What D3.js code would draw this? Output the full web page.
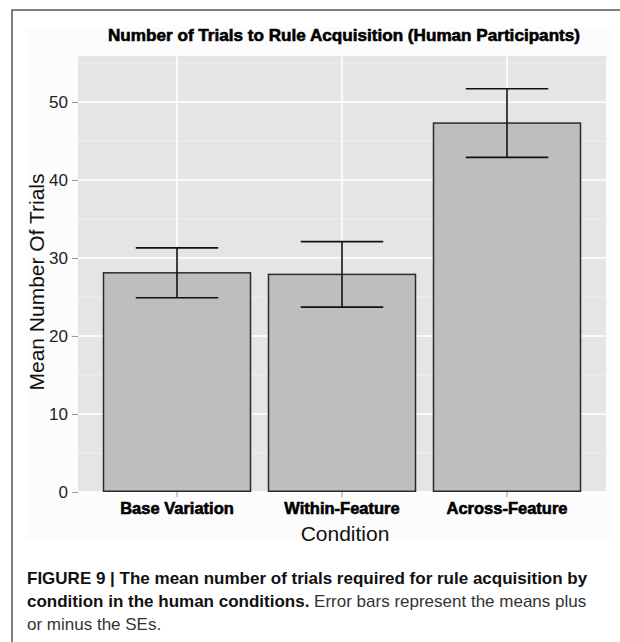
<!DOCTYPE html>
<html>
<head>
<meta charset="utf-8">
<script src="https://cdn.jsdelivr.net/npm/d3@7"></script>
<style>
  body { margin: 0; background: #fff; }
  svg { display: block; font-family: "Liberation Sans", Arial, sans-serif; }
</style>
</head>
<body>
<div id="chart"></div>
<script>
// data
const conditions = ["Base Variation", "Within-Feature", "Across-Feature"];
const meanTrials = [28.1, 27.9, 47.3];
const seTrials = [3.2, 4.2, 4.4];
const yTicks = [0, 10, 20, 30, 40, 50];
const yMinor = [5, 15, 25, 35, 45, 55];

const chartTitle = "Number of Trials to Rule Acquisition (Human Participants)";
const xTitle = "Condition";
const yTitle = "Mean Number Of Trials";

const W = 620, H = 642;
const panel = { left: 78, right: 606, top: 56, bottom: 492 };

const svg = d3.select("#chart").append("svg")
  .attr("width", W)
  .attr("height", H);

// frame lines (left + top)
svg.append("path")
  .attr("d", "M12," + H + "V10H" + W)
  .attr("fill", "none")
  .attr("stroke", "#555")
  .attr("stroke-width", 1.5);

// faint plot background
svg.append("rect")
  .attr("x", 26).attr("y", 27)
  .attr("width", 584).attr("height", 512)
  .attr("fill", "#fcfcfc");

// scales
const x = d3.scaleBand()
  .domain(conditions)
  .range([panel.left, panel.right])
  .paddingInner(0.1)
  .paddingOuter(0.15);

const y = d3.scaleLinear()
  .domain([0, 55.9])
  .range([panel.bottom, panel.top]);

// panel
svg.append("rect")
  .attr("x", panel.left).attr("y", panel.top)
  .attr("width", panel.right - panel.left)
  .attr("height", panel.bottom - panel.top)
  .attr("fill", "#e5e5e5");

// minor grid
svg.append("g").selectAll("line")
  .data(yMinor)
  .enter().append("line")
  .attr("x1", panel.left).attr("x2", panel.right)
  .attr("y1", d => y(d)).attr("y2", d => y(d))
  .attr("stroke", "#f2f2f2")
  .attr("stroke-width", 0.8);

// major grid
svg.append("g").selectAll("line")
  .data(yTicks)
  .enter().append("line")
  .attr("x1", panel.left).attr("x2", panel.right)
  .attr("y1", d => y(d)).attr("y2", d => y(d))
  .attr("stroke", "#fff")
  .attr("stroke-width", 1.6);

svg.append("g").selectAll("line")
  .data(conditions)
  .enter().append("line")
  .attr("x1", d => x(d) + x.bandwidth() / 2)
  .attr("x2", d => x(d) + x.bandwidth() / 2)
  .attr("y1", panel.top).attr("y2", panel.bottom)
  .attr("stroke", "#fff")
  .attr("stroke-width", 1.6);

// bars
const rows = conditions.map((c, i) => ({ label: c, mean: meanTrials[i], se: seTrials[i] }));

svg.append("g").selectAll("rect")
  .data(rows)
  .enter().append("rect")
  .attr("x", d => x(d.label) + 0.75)
  .attr("y", d => y(d.mean))
  .attr("width", x.bandwidth() - 1.5)
  .attr("height", d => y(0) - y(d.mean) - 0.75)
  .attr("fill", "#bebebe")
  .attr("stroke", "#2b2b2b")
  .attr("stroke-width", 1.5);

// error bars
const capW = x.step() * 0.5;
const err = svg.append("g").selectAll("g")
  .data(rows)
  .enter().append("g")
  .attr("transform", d => "translate(" + (x(d.label) + x.bandwidth() / 2) + ",0)");

err.append("line")
  .attr("y1", d => y(d.mean + d.se))
  .attr("y2", d => y(d.mean - d.se))
  .attr("stroke", "#111").attr("stroke-width", 1.6);

err.append("line")
  .attr("x1", -capW / 2).attr("x2", capW / 2)
  .attr("y1", d => y(d.mean + d.se)).attr("y2", d => y(d.mean + d.se))
  .attr("stroke", "#111").attr("stroke-width", 1.6);

err.append("line")
  .attr("x1", -capW / 2).attr("x2", capW / 2)
  .attr("y1", d => y(d.mean - d.se)).attr("y2", d => y(d.mean - d.se))
  .attr("stroke", "#111").attr("stroke-width", 1.6);

// y axis
const yAxis = svg.append("g")
  .attr("transform", "translate(" + panel.left + ",0)")
  .call(d3.axisLeft(y).tickValues(yTicks).tickSize(6).tickPadding(4));
yAxis.select(".domain").remove();
yAxis.selectAll(".tick line").attr("stroke", "#999");
yAxis.selectAll(".tick text")
  .attr("fill", "#222")
  .style("font-size", "17px")
  .style("font-family", "Liberation Sans, Arial, sans-serif");

// x axis
const xAxis = svg.append("g")
  .attr("transform", "translate(0," + panel.bottom + ")")
  .call(d3.axisBottom(x).tickSize(5).tickPadding(5));
xAxis.select(".domain").remove();
xAxis.selectAll(".tick line").attr("stroke", "#999");
xAxis.selectAll(".tick text")
  .attr("fill", "#000")
  .attr("stroke", "#000")
  .attr("stroke-width", 0.6)
  .style("font-size", "16.5px")
  .style("font-weight", "bold")
  .style("font-family", "Liberation Sans, Arial, sans-serif");

// titles
svg.append("text")
  .attr("x", 344).attr("y", 41)
  .attr("text-anchor", "middle")
  .attr("textLength", 472)
  .attr("lengthAdjust", "spacingAndGlyphs")
  .attr("stroke", "#000")
  .attr("stroke-width", 0.6)
  .style("font-size", "17px")
  .style("font-weight", "bold")
  .text(chartTitle);

svg.append("text")
  .attr("x", (panel.left + panel.right) / 2 + 3).attr("y", 541)
  .attr("text-anchor", "middle")
  .attr("fill", "#111")
  .style("font-size", "21px")
  .text(xTitle);

svg.append("text")
  .attr("transform", "translate(44," + ((panel.top + panel.bottom) / 2 + 8) + ") rotate(-90)")
  .attr("text-anchor", "middle")
  .attr("fill", "#111")
  .style("font-size", "21px")
  .text(yTitle);

// caption
const cap = svg.append("g")
  .style("font-family", "Liberation Sans Narrow, Arial Narrow, Liberation Sans, sans-serif")
  .style("font-size", "17px")
  .attr("fill", "#111");

cap.append("text")
  .attr("x", 27).attr("y", 584)
  .style("font-weight", "bold")
  .text("FIGURE 9 | The mean number of trials required for rule acquisition by");

const l2 = cap.append("text").attr("x", 27).attr("y", 607);
l2.append("tspan").style("font-weight", "bold").text("condition in the human conditions.");
l2.append("tspan").attr("fill", "#333").text(" Error bars represent the means plus");

cap.append("text")
  .attr("x", 27).attr("y", 630)
  .attr("fill", "#333")
  .text("or minus the SEs.");
</script>
</body>
</html>
